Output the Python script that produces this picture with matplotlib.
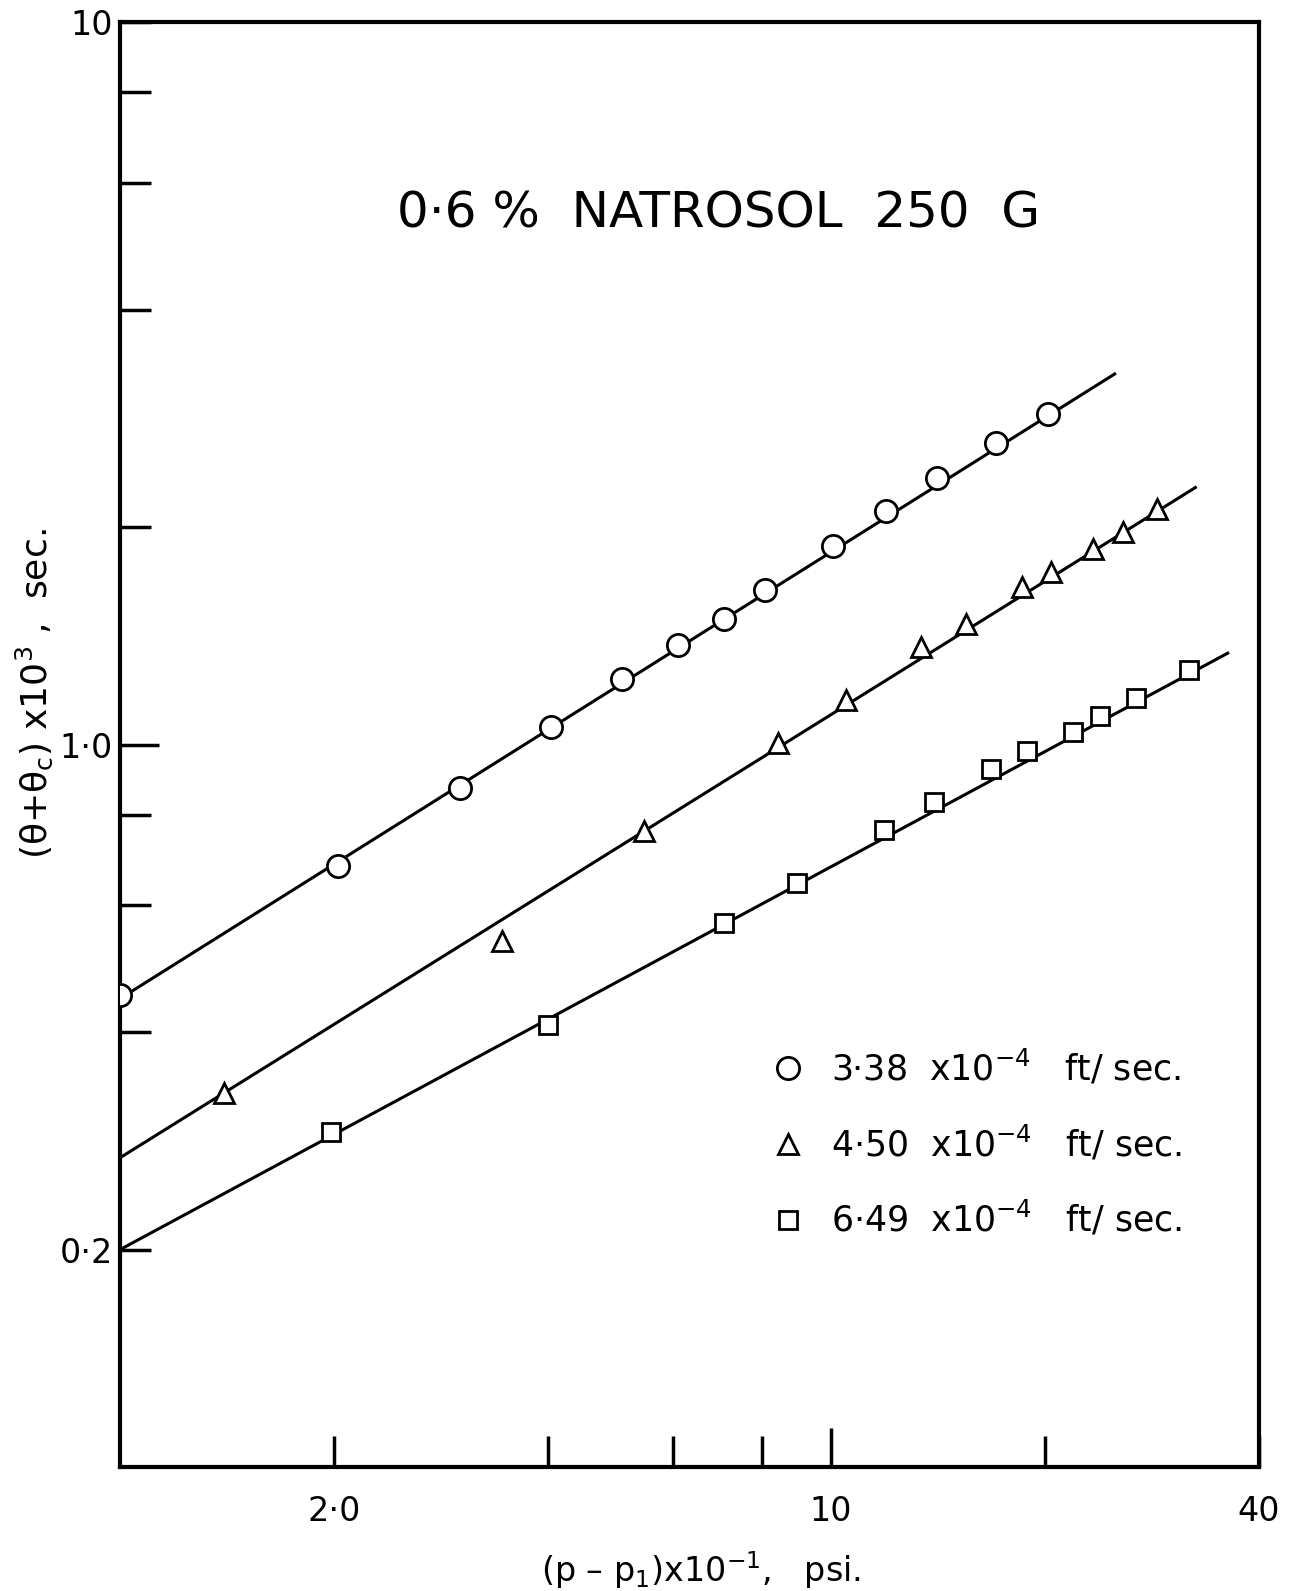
import matplotlib
matplotlib.use("Agg")
import matplotlib.pyplot as plt
from matplotlib.lines import Line2D

# pressure drop (p - p1) x 10^-1, psi  and  (theta + theta_c) x 10^3, sec
circle_x = [1.0, 2.03, 3.01, 4.04, 5.08, 6.10, 7.09, 8.09, 10.07, 11.97, 14.1, 17.1, 20.2]
circle_y = [0.45, 0.68, 0.87, 1.057, 1.234, 1.374, 1.494, 1.636, 1.887, 2.106, 2.34, 2.62, 2.87]

triangle_x = [1.40, 3.45, 5.46, 8.44, 10.5, 13.4, 15.5, 18.6, 20.4, 23.4, 25.8, 28.8]
triangle_y = [0.330, 0.535, 0.760, 1.006, 1.153, 1.365, 1.470, 1.652, 1.734, 1.868, 1.967, 2.12]

square_x = [1.98, 4.01, 7.07, 8.98, 11.9, 14.0, 16.8, 18.9, 21.9, 23.9, 26.9, 31.9]
square_y = [0.291, 0.409, 0.567, 0.644, 0.762, 0.832, 0.925, 0.981, 1.043, 1.095, 1.16, 1.267]

# fitted straight lines (end points in data units)
circle_fit_x = [1.0, 25.1]
circle_fit_y = [0.445, 3.26]
triangle_fit_x = [1.0, 32.6]
triangle_fit_y = [0.268, 2.27]
square_fit_x = [1.0, 36.2]
square_fit_y = [0.2, 1.339]

series_labels = ["3\u00b738  x10$^{-4}$   ft/ sec.",
                 "4\u00b750  x10$^{-4}$   ft/ sec.",
                 "6\u00b749  x10$^{-4}$   ft/ sec."]

x_ticks = [2, 4, 6, 8, 10, 20, 40]
x_tick_labels = ["2\u00b70", "", "", "", "10", "", "40"]
y_ticks = [0.2, 0.4, 0.6, 0.8, 1.0, 2, 4, 6, 8, 10]
y_tick_labels = ["0\u00b72", "", "", "", "1\u00b70", "", "", "", "", "10"]

plt.rcParams['font.family'] = ['DejaVu Sans']

fig = plt.figure(figsize=(12.92, 15.91), dpi=100)
ax = fig.add_axes([0.0927, 0.0778, 0.9741 - 0.0927, 0.986 - 0.0778])
ax.set_xscale('log')
ax.set_yscale('log')
ax.set_xlim(1, 40)
ax.set_ylim(0.1, 10)

for side in ax.spines.values():
    side.set_linewidth(3)

lw = 2.2
ax.plot(circle_fit_x, circle_fit_y, color='black', lw=lw, zorder=2)
ax.plot(triangle_fit_x, triangle_fit_y, color='black', lw=lw, zorder=2)
ax.plot(square_fit_x, square_fit_y, color='black', lw=lw, zorder=2)

mk = dict(linestyle='none', markerfacecolor='white', markeredgecolor='black',
          markeredgewidth=2.0, zorder=3)
ax.plot(circle_x, circle_y, marker='o', markersize=16, **mk)
ax.plot(triangle_x, triangle_y, marker='^', markersize=14, **mk)
ax.plot(square_x, square_y, marker='s', markersize=13, **mk)

# ticks pointing inwards, labels only on a few
ax.xaxis.set_minor_locator(matplotlib.ticker.NullLocator())
ax.yaxis.set_minor_locator(matplotlib.ticker.NullLocator())
ax.set_xticks(x_ticks)
ax.set_xticklabels(x_tick_labels)
ax.set_yticks(y_ticks)
ax.set_yticklabels(y_tick_labels)
ax.tick_params(direction='in', length=22, width=2.5, labelsize=24)
ax.tick_params(axis='x', pad=20)
ax.tick_params(axis='y', pad=5)
ax.xaxis.get_major_ticks()[4].tick1line.set_markersize(28)
ax.yaxis.get_major_ticks()[4].tick1line.set_markersize(28)

ax.set_xlabel("(p \u2013 p$_{\\rm 1}$)x10$^{-1}$,   psi.", fontsize=24)
ax.xaxis.set_label_coords(0.51, -0.057)
ax.set_ylabel("(\u03b8+\u03b8$_{\\rm c}$) x10$^{3}$ ,  sec.", fontsize=26)
ax.yaxis.set_label_coords(-0.057, 0.535)

fig.text(0.556, 0.866, "0\u00b76 %  NATROSOL  250  G", fontsize=36,
         ha='center', va='center')

handles = [
    Line2D([], [], marker='o', markersize=16, **mk),
    Line2D([], [], marker='^', markersize=14, **mk),
    Line2D([], [], marker='s', markersize=13, **mk),
]
ax.legend(handles, series_labels, loc='upper left',
          bbox_to_anchor=(742 / 1273, 1 - 1016 / 1568), bbox_transform=fig.transFigure,
          frameon=False, fontsize=25, handlelength=1.0, handletextpad=0.75,
          labelspacing=1.05, borderpad=0)

fig.savefig("out.png", dpi=100)
